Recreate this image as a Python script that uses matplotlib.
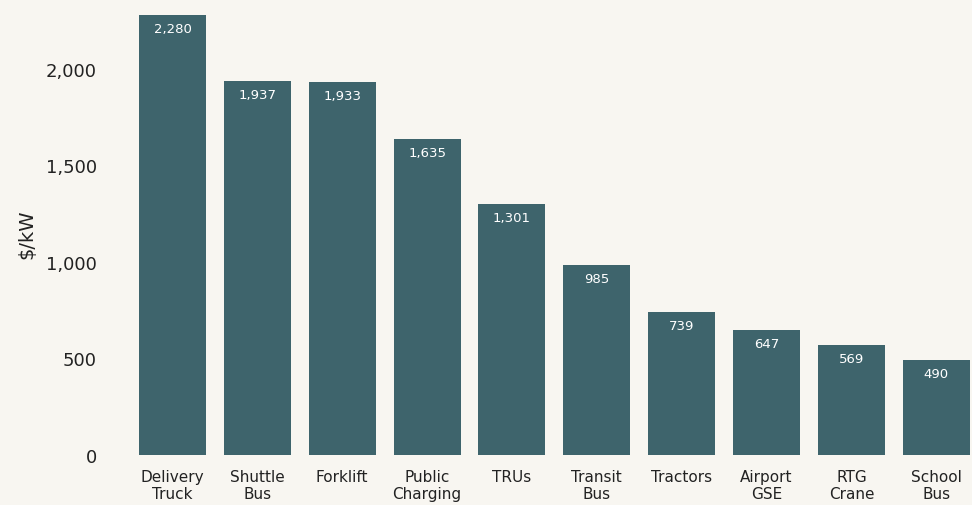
import matplotlib
matplotlib.use("Agg")
import matplotlib.pyplot as plt

# data
categories = ["Delivery\nTruck", "Shuttle\nBus", "Forklift", "Public\nCharging", "TRUs",
              "Transit\nBus", "Tractors", "Airport\nGSE", "RTG\nCrane", "School\nBus"]
values = [2280, 1937, 1933, 1635, 1301, 985, 739, 647, 569, 490]
yticks = [0, 500, 1000, 1500, 2000]

barColor = "#3e646c"
bgColor = "#f8f6f1"

plt.rcParams['font.family'] = ['DejaVu Sans']

figure = plt.figure(figsize=(9.72, 5.06), dpi=100, facecolor=bgColor)
ax = figure.add_axes([130 / 972, 50 / 506, 1 - 130 / 972, 444 / 506])
ax.set_facecolor(bgColor)

x = range(len(categories))
bars = ax.bar(x, values, width=0.79, color=barColor)

# value labels inside the top of each bar
for bar, value in zip(bars, values):
    ax.annotate(f"{value:,}", (bar.get_x() + bar.get_width() / 2, bar.get_height()),
                xytext=(0, -9.5), textcoords="offset points",
                ha="center", va="center", color="white", fontsize=9.5)

ax.set_xlim(-0.5, 9.42)
ax.set_ylim(0, 2300)
ax.set_xticks(list(x))
ax.set_xticklabels(categories, fontsize=11, color="#222222", linespacing=1.2)
ax.set_yticks(yticks)
ax.set_yticklabels([f"{t:,}" for t in yticks], fontsize=13, color="#222222")
ax.tick_params(axis="both", length=0)
ax.tick_params(axis="x", pad=10)
ax.tick_params(axis="y", pad=24)
ax.set_ylabel("$/kW", fontsize=14, color="#222222")
ax.yaxis.set_label_coords(-94 / 842, 0.5)

for spine in ax.spines.values():
    spine.set_visible(False)

figure.savefig("out.png", dpi=100, facecolor=bgColor)
